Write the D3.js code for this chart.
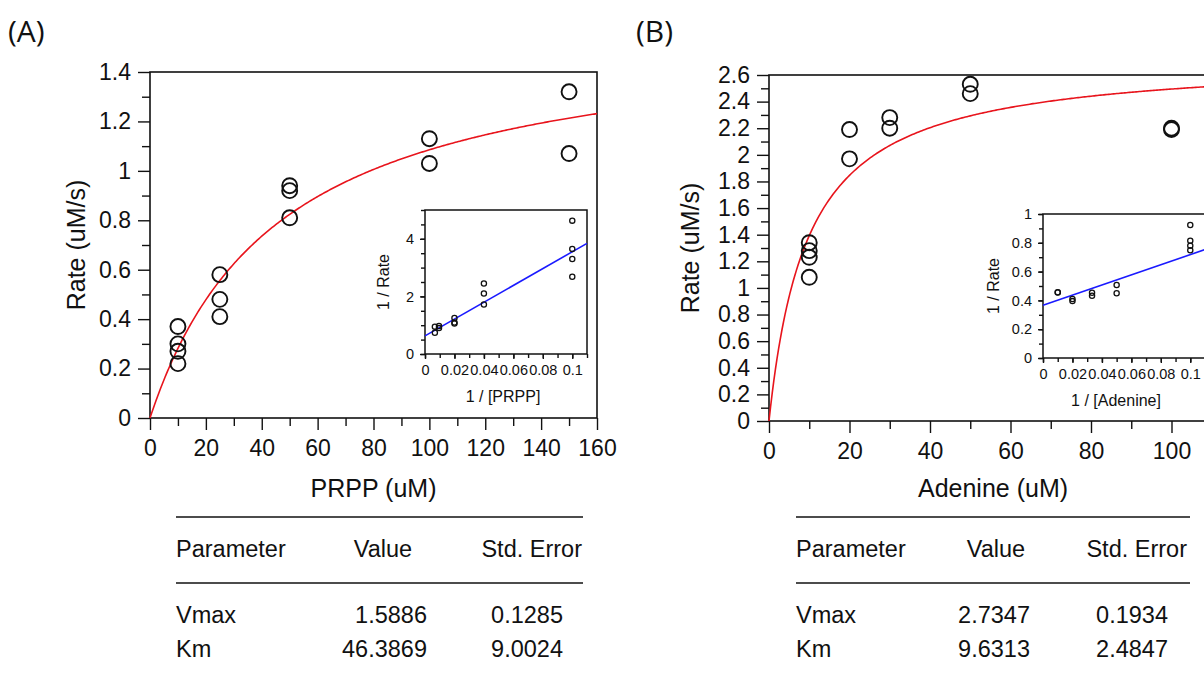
<!DOCTYPE html>
<html><head><meta charset="utf-8">
<script src="https://cdn.jsdelivr.net/npm/d3@7"></script>
<style>
body{margin:0;background:#fff}
svg{display:block}
text{font-family:"Liberation Sans",Arial,sans-serif;fill:#111}
</style>
</head><body><svg id="c" width="1204" height="676"></svg>
<script>
// ---------- data ----------
const prppConc = [10,10,10,10,25,25,25,50,50,50,100,100,150,150];
const prppRate = [0.37,0.30,0.27,0.22,0.58,0.48,0.41,0.94,0.92,0.81,1.13,1.03,1.32,1.07];
const prppInvConc = [0.1,0.1,0.1,0.1,0.04,0.04,0.04,0.02,0.02,0.02,0.0095,0.0095,0.0067,0.0067];
const prppInvRate = [4.63,3.65,3.3,2.68,2.45,2.1,1.72,1.25,1.09,1.06,0.97,0.9,0.95,0.74];

const adenineConc = [10,10,10,10,20,20,30,30,50,50,100,100];
const adenineRate = [1.34,1.28,1.23,1.08,2.19,1.97,2.28,2.20,2.53,2.46,2.20,2.19];
const adenineInvConc = [0.1,0.1,0.1,0.1,0.05,0.05,0.0333,0.0333,0.02,0.02,0.01,0.01];
const adenineInvRate = [0.748,0.78,0.815,0.924,0.45,0.507,0.432,0.453,0.395,0.41,0.455,0.457];

const paramNames = ["Vmax","Km"];
const prppParamValues = ["1.5886","46.3869"];
const prppParamErrors = ["0.1285","9.0024"];
const adenineParamValues = ["2.7347","9.6313"];
const adenineParamErrors = ["0.1934","2.4847"];
const tableHeaders = ["Parameter","Value","Std. Error"];

const svg = d3.select("#c");

function rng(a,b,s){ return d3.range(Math.round((b-a)/s)+1).map(i => +(a+i*s).toFixed(4)); }
const fmt = d => String(+d.toFixed(3));

function axisPair(g, axisFn, scale, major, minor, majorLen, minorLen, pad, fs){
  const gMinor = g.append("g").call(axisFn(scale).tickValues(minor).tickSize(minorLen).tickFormat(""));
  const gMajor = g.append("g").call(axisFn(scale).tickValues(major).tickSize(majorLen).tickPadding(pad).tickFormat(fmt));
  [gMinor,gMajor].forEach(a=>{
    a.select(".domain").remove();
    a.selectAll("line").attr("stroke","#111").attr("stroke-width",1.4);
    a.selectAll("text").attr("font-size",fs).attr("fill","#111").attr("font-family","Liberation Sans, Arial, sans-serif");
  });
}

function panel(cfg){
  const g = svg.append("g");
  const x = d3.scaleLinear().domain(cfg.xDom).range(cfg.xRange);
  const y = d3.scaleLinear().domain(cfg.yDom).range(cfg.yRange);
  // axes
  axisPair(g.append("g").attr("transform",`translate(0,${cfg.yRange[0]})`), d3.axisBottom, x,
    cfg.xMajor, cfg.xMinor, 12, 8, 10, 23);
  axisPair(g.append("g").attr("transform",`translate(${cfg.xRange[0]},0)`), d3.axisLeft, y,
    cfg.yMajor, cfg.yMinor, 12, 8, 7, 23);
  // frame
  g.append("rect").attr("x",cfg.xRange[0]).attr("y",cfg.yRange[1])
    .attr("width",cfg.xRange[1]-cfg.xRange[0]).attr("height",cfg.yRange[0]-cfg.yRange[1])
    .attr("fill","none").attr("stroke","#111").attr("stroke-width",1.6);
  // fit curve
  const [vmax,km] = cfg.params.map(Number);
  const xs = d3.range(0, cfg.xDom[1]+0.001, cfg.xDom[1]/300);
  g.append("path").datum(xs)
    .attr("d", d3.line().x(s=>x(s)).y(s=>y(vmax*s/(km+s))))
    .attr("fill","none").attr("stroke","#e8141c").attr("stroke-width",1.6);
  // points
  g.selectAll("circle.pt").data(cfg.conc.map((c,i)=>[c,cfg.rate[i]])).join("circle")
    .attr("cx",d=>x(d[0])).attr("cy",d=>y(d[1])).attr("r",7.5)
    .attr("fill","none").attr("stroke","#111").attr("stroke-width",1.9);
  // titles
  g.append("text").attr("x",(cfg.xRange[0]+Math.min(cfg.xRange[1],cfg.xTitleRight))/2).attr("y",cfg.xTitleY)
    .attr("text-anchor","middle").attr("font-size",25).text(cfg.xTitle);
  g.append("text").attr("transform",`translate(${cfg.yTitleX},${(cfg.yRange[0]+cfg.yRange[1])/2}) rotate(-90)`)
    .attr("text-anchor","middle").attr("font-size",25).text("Rate (uM/s)");
  // panel letter
  svg.append("text").attr("x",cfg.letterX).attr("y",42)
    .style("font-family","'Open Sans','Noto Sans',sans-serif").style("font-size","30px")
    .text(cfg.letter);

  // inset
  const ix = d3.scaleLinear().domain([0,0.11]).range(cfg.insetX);
  const iy = d3.scaleLinear().domain(cfg.insetYDom).range(cfg.insetY);
  const ig = g.append("g");
  ig.append("rect").attr("x",cfg.insetX[0]).attr("y",cfg.insetY[1])
    .attr("width",cfg.insetX[1]-cfg.insetX[0]).attr("height",cfg.insetY[0]-cfg.insetY[1])
    .attr("fill","#fff").attr("stroke","#111").attr("stroke-width",1.5);
  axisPair(ig.append("g").attr("transform",`translate(0,${cfg.insetY[0]})`), d3.axisBottom, ix,
    rng(0,0.1,0.02), rng(0,0.11,0.01), 5, 4, 6, 14.5);
  axisPair(ig.append("g").attr("transform",`translate(${cfg.insetX[0]},0)`), d3.axisLeft, iy,
    cfg.insetYMajor, cfg.insetYMinor, 5, 4, 6, 14.5);
  ig.append("path").datum([0,0.11])
    .attr("d", d3.line().x(s=>ix(s)).y(s=>iy(1/vmax + km/vmax*s)))
    .attr("stroke","#1a1aff").attr("stroke-width",1.6).attr("fill","none");
  ig.selectAll("circle").data(cfg.invConc.map((c,i)=>[c,cfg.invRate[i]])).join("circle")
    .attr("cx",d=>ix(d[0])).attr("cy",d=>iy(d[1])).attr("r",2.6)
    .attr("fill","none").attr("stroke","#111").attr("stroke-width",1.3);
  ig.append("text").attr("x",cfg.insetXTitleX).attr("y",cfg.insetY[0]+48)
    .attr("text-anchor","middle").attr("font-size",16).text(cfg.insetXTitle);
  ig.append("text").attr("transform",`translate(${cfg.insetYTitleX},${(cfg.insetY[0]+cfg.insetY[1])/2}) rotate(-90)`)
    .attr("text-anchor","middle").attr("font-size",16).text("1 / Rate");

  // table
  const t = cfg.table;
  const tg = svg.append("g");
  [517,583].forEach(yy => tg.append("line").attr("x1",t.x0).attr("x2",t.x1).attr("y1",yy).attr("y2",yy)
    .attr("stroke","#111").attr("stroke-width",1.6));
  const fs = 23.5;
  tg.append("text").attr("x",t.x0).attr("y",557).attr("font-size",fs).text(tableHeaders[0]);
  tg.append("text").attr("x",t.valHead).attr("y",557).attr("font-size",fs).attr("text-anchor","middle").text(tableHeaders[1]);
  tg.append("text").attr("x",t.errHead).attr("y",557).attr("font-size",fs).attr("text-anchor","end").text(tableHeaders[2]);
  paramNames.forEach((p,i)=>{
    const yy = 623 + i*34;
    tg.append("text").attr("x",t.x0).attr("y",yy).attr("font-size",fs).text(p);
    tg.append("text").attr("x",t.valRight).attr("y",yy).attr("font-size",fs).attr("text-anchor","end").text(t.values[i]);
    tg.append("text").attr("x",t.errRight).attr("y",yy).attr("font-size",fs).attr("text-anchor","end").text(t.errors[i]);
  });
}

panel({
  letter:"(A)", letterX:8,
  xDom:[0,160], xRange:[150,597], yDom:[0,1.4], yRange:[418,72],
  xMajor:rng(0,160,20), xMinor:rng(10,150,20), yMajor:rng(0,1.4,0.2), yMinor:rng(0.1,1.3,0.2),
  xTitle:"PRPP (uM)", xTitleY:497, xTitleRight:597, yTitleX:85,
  conc:prppConc, rate:prppRate, params:prppParamValues,
  insetX:[425,587], insetY:[354,210], insetYDom:[0,5],
  insetYMajor:[0,2,4], insetYMinor:rng(0,5,0.5),
  invConc:prppInvConc, invRate:prppInvRate, insetXTitle:"1 / [PRPP]", insetXTitleX:503, insetYTitleX:389,
  table:{x0:176,x1:583,valHead:383,errHead:582,valRight:427,errRight:563,values:prppParamValues,errors:prppParamErrors}
});
panel({
  letter:"(B)", letterX:636,
  xDom:[0,120], xRange:[769,1252], yDom:[0,2.6], yRange:[421,75],
  xMajor:rng(0,100,20), xMinor:rng(10,110,20), yMajor:rng(0,2.6,0.2), yMinor:rng(0.1,2.5,0.2),
  xTitle:"Adenine (uM)", xTitleY:497, xTitleRight:1217, yTitleX:699,
  conc:adenineConc, rate:adenineRate, params:adenineParamValues,
  insetX:[1043,1205], insetY:[358,214], insetYDom:[0,1],
  insetYMajor:rng(0,1,0.2), insetYMinor:rng(0,1,0.1),
  invConc:adenineInvConc, invRate:adenineInvRate, insetXTitle:"1 / [Adenine]", insetXTitleX:1116, insetYTitleX:999,
  table:{x0:796,x1:1190,valHead:996,errHead:1187,valRight:1030,errRight:1168,values:adenineParamValues,errors:adenineParamErrors}
});
</script></body></html>
